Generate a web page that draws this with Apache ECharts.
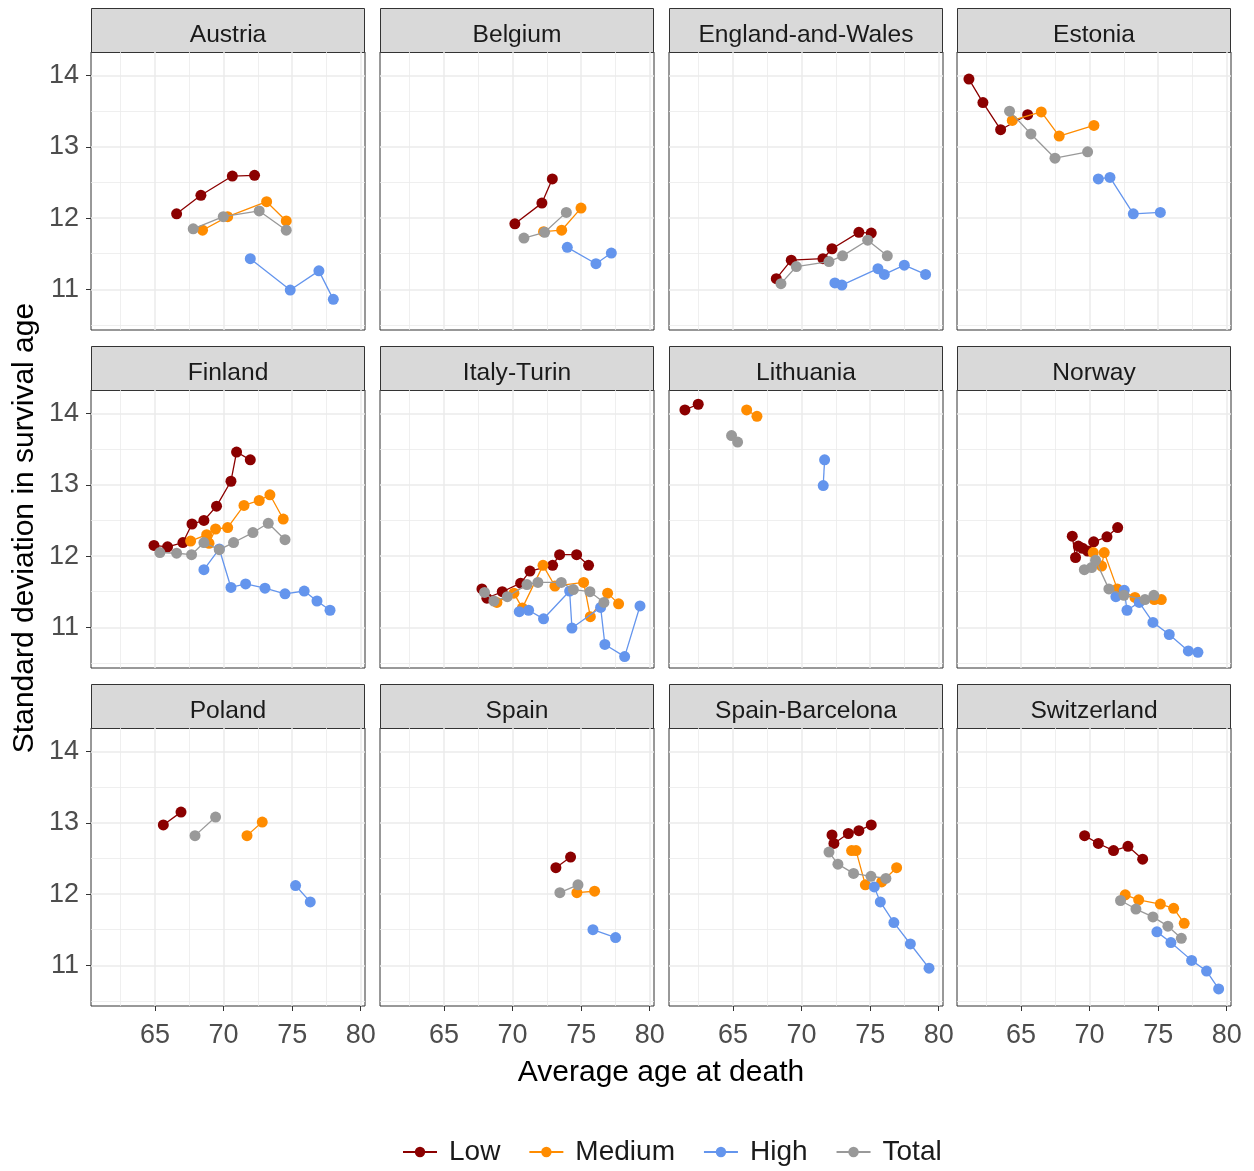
<!DOCTYPE html>
<html>
<head>
<meta charset="utf-8">
<title>Standard deviation in survival age</title>
<script src="https://cdn.jsdelivr.net/npm/echarts@6/dist/echarts.min.js"></script>
<style>
html, body { margin: 0; padding: 0; background: #fff; }
#chart { width: 1254px; height: 1171px; }
</style>
</head>
<body>
<div id="chart"></div>
<script>
var countries = ['Austria', 'Belgium', 'England-and-Wales', 'Estonia',
                 'Finland', 'Italy-Turin', 'Lithuania', 'Norway',
                 'Poland', 'Spain', 'Spain-Barcelona', 'Switzerland'];
var groups = ['Low', 'Medium', 'High', 'Total'];
var groupColors = ['#8B0000', '#FF8C00', '#6495ED', '#999999'];
var xTicks = [65, 70, 75, 80];
var yTicks = [11, 12, 13, 14];
var xMinor = [62.5, 67.5, 72.5, 77.5];
var yMinor = [10.5, 11.5, 12.5, 13.5];

// [average age at death, sd in survival age], one list per country (same order as countries)
var lowData = [
    [[66.58, 12.06], [68.35, 12.32], [70.64, 12.59], [72.26, 12.60]],
    [[70.17, 11.92], [72.14, 12.21], [72.90, 12.55]],
    [[68.16, 11.15], [69.25, 11.41], [71.56, 11.43], [72.22, 11.57], [74.18, 11.80], [75.08, 11.79]],
    [[61.21, 13.95], [62.23, 13.62], [63.52, 13.24], [65.49, 13.45]],
    [[64.93, 12.15], [65.92, 12.13], [67.04, 12.19], [67.70, 12.45], [68.57, 12.50], [69.49, 12.70], [70.54, 13.05], [70.95, 13.46], [71.95, 13.35]],
    [[67.77, 11.54], [68.13, 11.41], [69.25, 11.50], [70.59, 11.62], [71.27, 11.79], [72.92, 11.87], [73.43, 12.02], [74.67, 12.02], [75.54, 11.87]],
    [[61.50, 14.05], [62.47, 14.13]],
    [[68.74, 12.28], [68.98, 11.98], [69.18, 12.14], [69.49, 12.11], [69.86, 12.07], [70.30, 12.20], [71.27, 12.27], [72.05, 12.40]],
    [[65.61, 12.97], [66.90, 13.15]],
    [[73.16, 12.37], [74.23, 12.52]],
    [[72.22, 12.83], [72.36, 12.71], [73.41, 12.85], [74.18, 12.89], [75.08, 12.97]],
    [[69.64, 12.82], [70.64, 12.71], [71.75, 12.61], [72.80, 12.67], [73.87, 12.49]]
];
var mediumData = [
    [[68.47, 11.83], [70.30, 12.02], [73.14, 12.23], [74.57, 11.96]],
    [[72.26, 11.81], [73.58, 11.83], [74.99, 12.14]],
    [],
    [[64.37, 13.37], [66.48, 13.49], [67.79, 13.15], [70.32, 13.30]],
    [[67.60, 12.21], [68.77, 12.30], [68.94, 12.18], [69.42, 12.38], [70.30, 12.40], [71.49, 12.71], [72.60, 12.78], [73.38, 12.86], [74.35, 12.52]],
    [[68.86, 11.35], [70.10, 11.48], [70.71, 11.27], [72.22, 11.87], [73.09, 11.58], [75.18, 11.63], [75.67, 11.15], [76.93, 11.48], [77.73, 11.33]],
    [[66.00, 14.05], [66.75, 13.96]],
    [[70.27, 12.05], [70.88, 11.86], [71.07, 12.05], [72.02, 11.54], [73.31, 11.42], [74.72, 11.39], [75.23, 11.39]],
    [[71.71, 12.82], [72.82, 13.01]],
    [[74.69, 12.02], [75.98, 12.04]],
    [[73.65, 12.61], [73.97, 12.61], [74.65, 12.13], [75.84, 12.17], [76.93, 12.37]],
    [[72.60, 11.99], [73.58, 11.92], [75.16, 11.86], [76.13, 11.80], [76.90, 11.59]]
];
var highData = [
    [[71.95, 11.43], [74.86, 10.99], [76.95, 11.26], [78.00, 10.86]],
    [[73.99, 11.59], [76.08, 11.36], [77.20, 11.51]],
    [[72.43, 11.09], [72.94, 11.06], [75.57, 11.29], [76.03, 11.21], [77.49, 11.34], [79.04, 11.21]],
    [[70.64, 12.55], [71.49, 12.57], [73.19, 12.06], [75.16, 12.08]],
    [[68.57, 11.81], [69.69, 12.10], [70.54, 11.56], [71.61, 11.61], [73.02, 11.55], [74.48, 11.47], [75.88, 11.51], [76.81, 11.37], [77.76, 11.24]],
    [[70.49, 11.22], [71.17, 11.24], [72.26, 11.12], [74.16, 11.51], [74.33, 10.99], [76.42, 11.28], [76.73, 10.76], [78.17, 10.59], [79.29, 11.30]],
    [[71.68, 13.35], [71.58, 12.99]],
    [[71.92, 11.43], [72.53, 11.52], [72.73, 11.24], [73.62, 11.35], [74.62, 11.07], [75.81, 10.90], [77.20, 10.67], [77.90, 10.65]],
    [[75.25, 12.12], [76.32, 11.89]],
    [[75.86, 11.50], [77.51, 11.39]],
    [[75.30, 12.10], [75.74, 11.89], [76.73, 11.60], [77.93, 11.30], [79.29, 10.96]],
    [[74.91, 11.47], [75.93, 11.32], [77.44, 11.07], [78.53, 10.92], [79.41, 10.67]]
];
var totalData = [
    [[67.79, 11.85], [69.98, 12.02], [72.60, 12.10], [74.57, 11.83]],
    [[70.83, 11.72], [72.34, 11.80], [73.92, 12.08]],
    [[68.50, 11.08], [69.62, 11.32], [72.00, 11.39], [72.99, 11.47], [74.82, 11.69], [76.25, 11.47]],
    [[64.17, 13.50], [65.73, 13.18], [67.48, 12.84], [69.86, 12.93]],
    [[65.36, 12.05], [66.58, 12.04], [67.67, 12.02], [68.57, 12.19], [69.69, 12.09], [70.73, 12.19], [72.14, 12.33], [73.26, 12.46], [74.48, 12.23]],
    [[67.96, 11.49], [68.64, 11.37], [69.62, 11.43], [71.05, 11.60], [71.85, 11.63], [73.55, 11.63], [74.43, 11.53], [75.64, 11.50], [76.66, 11.35]],
    [[64.90, 13.69], [65.34, 13.60]],
    [[69.62, 11.81], [70.15, 11.84], [70.44, 11.94], [71.41, 11.54], [72.51, 11.45], [74.04, 11.39], [74.69, 11.45]],
    [[67.92, 12.82], [69.42, 13.08]],
    [[73.45, 12.02], [74.77, 12.13]],
    [[72.00, 12.59], [72.65, 12.42], [73.79, 12.29], [75.06, 12.25], [76.15, 12.22]],
    [[72.26, 11.91], [73.38, 11.79], [74.62, 11.68], [75.71, 11.55], [76.69, 11.38]]
];
var groupData = [lowData, mediumData, highData, totalData];

var chart = echarts.init(document.getElementById('chart'));
var font = 'Liberation Sans, Arial, sans-serif';

var colLeft = [91, 380, 669, 957];
var rowTop = [52, 390, 728];
var panelW = 274, panelH = 278, stripH = 44;

var grids = [], xAxes = [], yAxes = [], series = [], graphics = [];

countries.forEach(function (name, i) {
    var r = Math.floor(i / 4), c = i % 4;
    var left = colLeft[c], top = rowTop[r];

    grids.push({
        left: left, top: top, width: panelW, height: panelH,
        show: true, backgroundColor: '#ffffff',
        borderColor: '#333333', borderWidth: 1
    });

    xAxes.push({
        type: 'value', gridIndex: i, min: 60.34, max: 80.31,
        axisLine: { show: false },
        splitLine: { show: false },
        axisTick: { show: r === 2, length: 5, lineStyle: { color: '#333333', width: 1 }, customValues: xTicks },
        axisLabel: { show: r === 2, customValues: xTicks, color: '#4D4D4D', fontSize: 27, fontFamily: font, margin: 16 }
    });
    yAxes.push({
        type: 'value', gridIndex: i, min: 10.43, max: 14.33,
        axisLine: { show: false },
        splitLine: { show: false },
        axisTick: { show: c === 0, length: 5, lineStyle: { color: '#333333', width: 1 }, customValues: yTicks },
        axisLabel: { show: c === 0, customValues: yTicks, color: '#4D4D4D', fontSize: 27, fontFamily: font, margin: 12 }
    });

    // panel grid lines
    var gl = [];
    xMinor.forEach(function (v) { gl.push({ xAxis: v, lineStyle: { width: 0.8 } }); });
    yMinor.forEach(function (v) { gl.push({ yAxis: v, lineStyle: { width: 0.8 } }); });
    xTicks.forEach(function (v) { gl.push({ xAxis: v, lineStyle: { width: 1.5 } }); });
    yTicks.forEach(function (v) { gl.push({ yAxis: v, lineStyle: { width: 1.5 } }); });
    series.push({
        type: 'line', name: 'grid' + i, xAxisIndex: i, yAxisIndex: i, data: [],
        silent: true, z: 1, animation: false,
        markLine: {
            silent: true, z: 1, animation: false, symbol: ['none', 'none'],
            label: { show: false }, emphasis: { disabled: true },
            lineStyle: { color: '#EBEBEB', type: 'solid' },
            data: gl
        }
    });

    groups.forEach(function (g, k) {
        series.push({
            type: 'line', name: g, xAxisIndex: i, yAxisIndex: i,
            data: groupData[k][i],
            symbol: 'circle', symbolSize: 11, showSymbol: true,
            lineStyle: { color: groupColors[k], width: 1.3 },
            itemStyle: { color: groupColors[k] },
            emphasis: { disabled: true },
            animation: false, z: 2 + k
        });
    });

    graphics.push({
        type: 'rect', silent: true,
        shape: { x: left + 0.5, y: top - stripH + 0.5, width: panelW - 1, height: stripH },
        style: { fill: '#D9D9D9', stroke: '#333333', lineWidth: 1 }
    });
    graphics.push({
        type: 'text', silent: true, x: left + panelW / 2, y: top - stripH / 2 + 5,
        style: { text: name, fill: '#1A1A1A', fontSize: 24.6, fontFamily: font, align: 'center', verticalAlign: 'middle' }
    });
});

graphics.push({
    type: 'text', silent: true, x: 661, y: 1073,
    style: { text: 'Average age at death', fill: '#000000', fontSize: 30, fontFamily: font, align: 'center', verticalAlign: 'middle' }
});
graphics.push({
    type: 'text', silent: true, x: 25, y: 528, rotation: Math.PI / 2,
    style: { text: 'Standard deviation in survival age', fill: '#000000', fontSize: 30, fontFamily: font, align: 'center', verticalAlign: 'middle' }
});

chart.setOption({
    animation: false,
    grid: grids,
    xAxis: xAxes,
    yAxis: yAxes,
    legend: {
        data: groups, left: 397, top: 1133, orient: 'horizontal',
        itemWidth: 34, itemHeight: 13, itemGap: 28,
        textStyle: { fontSize: 28, fontFamily: font, color: '#1A1A1A', padding: [0, 0, 0, 7] }
    },
    graphic: graphics,
    series: series
});
</script>
</body>
</html>
